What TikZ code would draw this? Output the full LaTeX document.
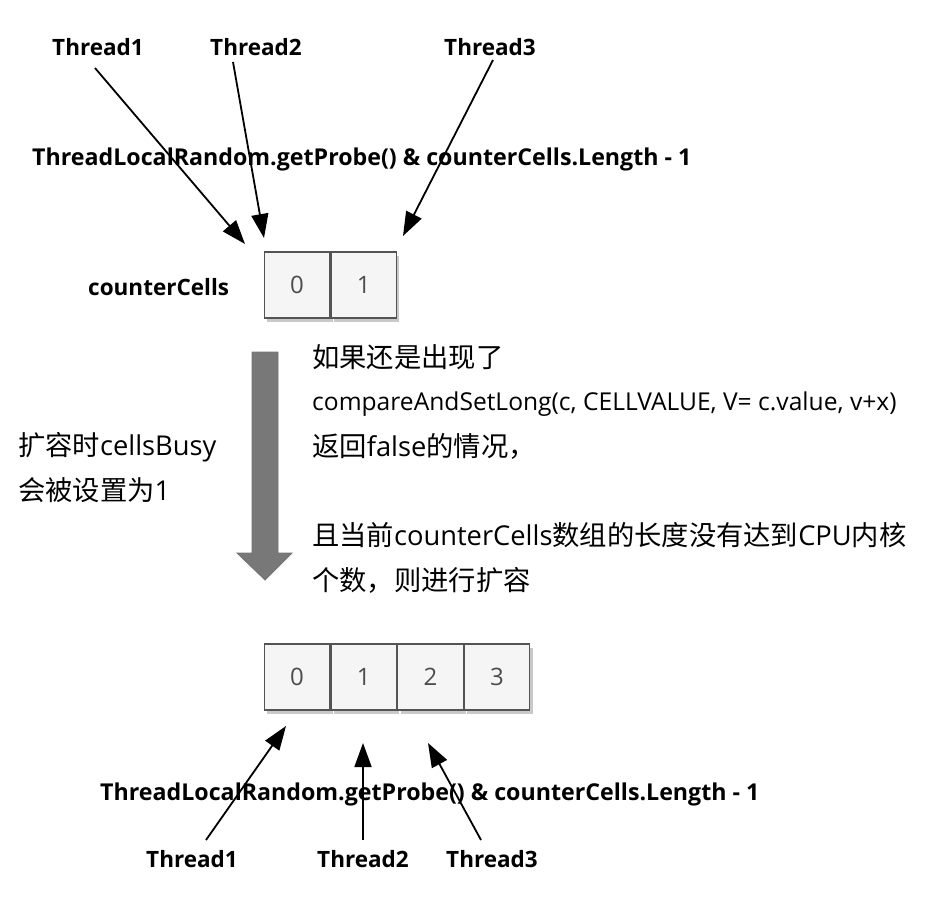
\documentclass[tikz,border=0pt]{standalone}
\usepackage{fontspec}
\setmainfont{Open Sans}
\newfontfamily\cjk{Noto Sans CJK SC}
\newcommand{\zh}[1]{{\cjk #1}}
\usetikzlibrary{positioning,arrows.meta,shadows}
\definecolor{cellFill}  {rgb}{0.96, 0.96, 0.96}
\definecolor{cellLine}  {rgb}{0.33, 0.33, 0.33}
\definecolor{bigGray}   {rgb}{0.47, 0.47, 0.47}
\tikzstyle{thread}     = [font=\fontsize{22.5}{26}\selectfont\bfseries, anchor=base, inner sep=0pt]
\tikzstyle{cell}       = [draw=cellLine, line width=1.2pt, fill=cellFill, minimum width=65.5pt, minimum height=66pt, inner sep=0pt, font=\fontsize{24}{28}\selectfont, text=black!70]
\tikzstyle{hashArrow}  = [line width=1.8pt, -{Triangle[length=24pt,width=17pt]}]
\tikzset{
  probe/.style={font=\fontsize{23.2}{27}\selectfont\bfseries, anchor=base west, inner sep=0pt},
  note/.style={font=\fontsize{27.3}{32}\selectfont, anchor=base west, inner sep=0pt},
  cellShadow/.style={drop shadow={shadow xshift=3pt, shadow yshift=-4pt, fill=black!30, opacity=.7}}
}

\begin{document}
\begin{tikzpicture}[x=1pt,y=-1pt]
  \useasboundingbox (0,0) rectangle (934,902);

  % top: two cells
  \node[thread] (t1) at (98,55)  {Thread1};
  \node[thread] (t2) at (256,55) {Thread2};
  \node[thread] (t3) at (490,55) {Thread3};
  \node[probe]  (probeTop) at (32,165) {ThreadLocalRandom.getProbe() \& counterCells.Length - 1};
  \node[probe, font=\fontsize{22.5}{26}\selectfont\bfseries] (cellsName) at (88,295) {counterCells};
  \node[cell, cellShadow] (a0) at (297,285) {0};
  \node[cell, cellShadow, right=0pt of a0] (a1) {1};

  \coordinate (t1foot) at (95,68);
  \coordinate (t2foot) at (233,62);
  \coordinate (t3foot) at (493,60);
  \coordinate (a0hit)  at (245,244);
  \coordinate (a0hitb) at (264,238);
  \coordinate (a1hit)  at (403,236);
  \draw[hashArrow] (t1foot) -- (a0hit);
  \draw[hashArrow] (t2foot) -- (a0hitb);
  \draw[hashArrow] (t3foot) -- (a1hit);

  % resize arrow
  \filldraw[fill=bigGray, draw=black!55, line width=0.8pt]
    (252,352) -- (278,352) -- (278,553) -- (292,553) -- (265,580) -- (237,553) -- (252,553) -- cycle;

  \node[note] (grow1) at (18,455) {\zh{扩容时}cellsBusy};
  \node[note] (grow2) at (18,500) {\zh{会被设置为}1};

  \node[note] (why1) at (312,367) {\zh{如果还是出现了}};
  \node[note, font=\fontsize{24.6}{28}\selectfont] (why2) at (312,410) {compareAndSetLong(c, CELLVALUE, V= c.value, v+x)};
  \node[note] (why3) at (312,456) {\zh{返回}false\zh{的情况，}};
  \node[note] (why4) at (312,545) {\zh{且当前}counterCells\zh{数组的长度没有达到}CPU\zh{内核}};
  \node[note] (why5) at (312,590) {\zh{个数，则进行扩容}};

  % bottom: four cells
  \node[cell, cellShadow] (b0) at (297,677) {0};
  \node[cell, cellShadow, right=0pt of b0] (b1) {1};
  \node[cell, cellShadow, right=0pt of b1] (b2) {2};
  \node[cell, cellShadow, right=0pt of b2] (b3) {3};

  \node[probe] (probeBot) at (100,800) {ThreadLocalRandom.getProbe() \& counterCells.Length - 1};
  \node[thread] (u1) at (192,867) {Thread1};
  \node[thread] (u2) at (363,867) {Thread2};
  \node[thread] (u3) at (492,867) {Thread3};

  \coordinate (u1head) at (206,840);
  \coordinate (u2head) at (363,840);
  \coordinate (u3head) at (481,840);
  \coordinate (b0hit)  at (286,726);
  \coordinate (b1hit)  at (363,743);
  \coordinate (b2hit)  at (428,743);
  \draw[hashArrow] (u1head) -- (b0hit);
  \draw[hashArrow] (u2head) -- (b1hit);
  \draw[hashArrow] (u3head) -- (b2hit);
\end{tikzpicture}
\end{document}
